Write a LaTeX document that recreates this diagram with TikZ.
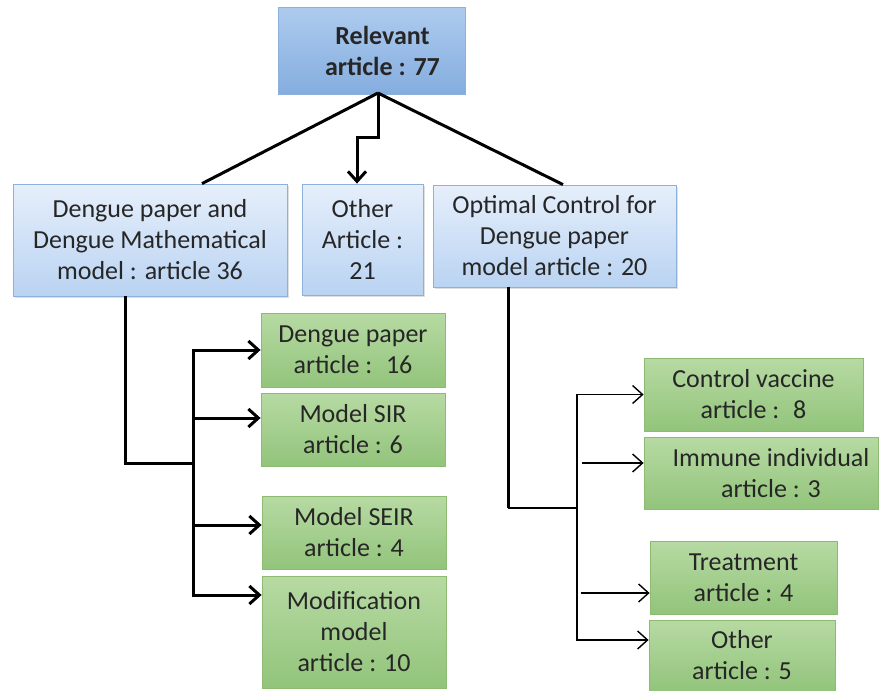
\documentclass[tikz,border=0pt]{standalone}
\usepackage{fontspec}
\setmainfont{Carlito}
\usetikzlibrary{arrows.meta,shadows}
\definecolor{topup}{HTML}{AECBEE}
\definecolor{topdn}{HTML}{84ADDF}
\definecolor{bluup}{HTML}{E6EFFB}
\definecolor{bludn}{HTML}{B9D3F2}
\definecolor{bluln}{HTML}{8EB1DC}
\definecolor{grnup}{HTML}{B7DAA3}
\definecolor{grndn}{HTML}{92C47B}
\definecolor{grnln}{HTML}{8DBB72}
\definecolor{txt}{HTML}{262626}

\begin{document}
\begin{tikzpicture}[x=0.5pt, y=-0.5pt,
  every node/.style={font=\fontsize{13}{15.5}\selectfont, align=center, inner sep=0pt, text=txt},
  topbox/.style={draw=bluln, top color=topup, bottom color=topdn, font=\fontsize{13}{15.5}\selectfont\bfseries},
  blubox/.style={draw=bluln, top color=bluup, bottom color=bludn, drop shadow={shadow xshift=1pt, shadow yshift=-1pt, opacity=0.25}},
  grnbox/.style={draw=grnln, top color=grnup, bottom color=grndn},
  thk/.style={line width=1.5pt},
  thn/.style={line width=0.7pt},
  >={Straight Barb[length=5pt,width=9pt]}]
  \useasboundingbox (0,0) rectangle (879,691);
  % top level
  \node[topbox, minimum width=93.5pt, minimum height=43.5pt] at (371.5,50.5) (rel) {\hspace*{11pt}Relevant\\ \hspace*{11pt}article : 77};
  % second level
  \node[blubox, minimum width=137pt, minimum height=56pt] at (150,240) (dpm) {Dengue paper and\\ Dengue Mathematical\\ model : article 36};
  \node[blubox, minimum width=60.5pt, minimum height=55.5pt] at (362.5,239.5) (oth) {Other\\ Article :\\ 21};
  \node[blubox, minimum width=121.5pt, minimum height=51pt] at (554.5,236) (ocd) {Optimal Control for\\ Dengue paper\\ model article : 20};
  % left leaves
  \node[grnbox, minimum width=92pt, minimum height=37pt] at (353,350) (dp) {Dengue paper\\ article :~ 16};
  \node[grnbox, minimum width=92pt, minimum height=36.5pt] at (353,429.5) (sir) {Model SIR\\ article : 6};
  \node[grnbox, minimum width=92pt, minimum height=36.5pt] at (354,532.5) (seir) {Model SEIR\\ article : 4};
  \node[grnbox, minimum width=92pt, minimum height=56pt] at (354,632) (mod) {Modification\\ model\\ article : 10};
  % right leaves
  \node[grnbox, minimum width=109.5pt, minimum height=36.5pt] at (753.5,394.5) (vac) {Control vaccine\\ article :~ 8};
  \node[grnbox, minimum width=117pt, minimum height=36pt] at (761,473) (imm) {\hspace*{10pt}Immune individual\\ \hspace*{10pt}article : 3};
  \node[grnbox, minimum width=93.5pt, minimum height=36.5pt] at (743.5,577.5) (trt) {Treatment\\ article : 4};
  \node[grnbox, minimum width=93pt, minimum height=35.5pt] at (742,655.5) (oar) {Other\\ article : 5};
  % branch points
  \coordinate (tp) at (378,93);
  \coordinate (bl) at (193,463);
  \coordinate (jr) at (508,508);
  \coordinate (br) at (577,508);
  % from the top box
  \draw[thk] (tp) -- ([xshift=26pt]dpm.north);
  \draw[thk] (tp) -- ([xshift=4.25pt]ocd.north);
  \draw[thk, ->] (tp) -- ++(0,44) -| ([xshift=-2.75pt]oth.north);
  % left tree
  \draw[thk] ([xshift=-12.5pt]dpm.south) |- (bl);
  \draw[thk, ->] (bl) |- (dp.west);
  \draw[thk, ->] (bl) |- ([yshift=5.75pt]sir.west);
  \draw[thk, ->] (bl) |- ([yshift=3.75pt]seir.west);
  \draw[thk, ->] (bl) |- ([yshift=18.5pt]mod.west);
  % right tree
  \draw[thk] ([xshift=-23.25pt]ocd.south) -- (jr);
  \draw[thn] (jr) -- (br);
  \draw[thn, ->] (br) |- (vac.west);
  \draw[thn, ->] ([xshift=-31pt,yshift=5pt]imm.west) -- ([yshift=5pt]imm.west);
  \draw[thn, ->] ([xshift=-34.5pt,yshift=-7.75pt]trt.west) -- ([yshift=-7.75pt]trt.west);
  \draw[thn, ->] (br) |- ([yshift=7.75pt]oar.west);
\end{tikzpicture}
\end{document}
